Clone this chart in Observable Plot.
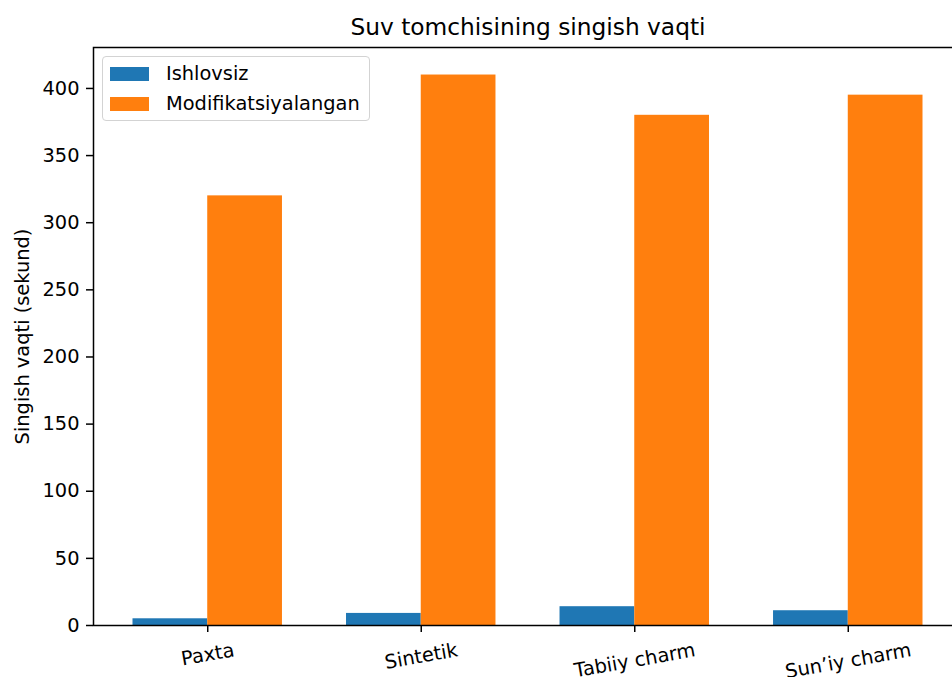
<!DOCTYPE html>
<html>
<head>
<meta charset="utf-8">
<script src="https://cdn.jsdelivr.net/npm/d3@7"></script>
<script src="https://cdn.jsdelivr.net/npm/@observablehq/plot@0.6"></script>
<style>
  html, body { margin: 0; padding: 0; background: #fff; }
  #wrap { position: relative; width: 952px; height: 677px; overflow: hidden; font-family: "DejaVu Sans", sans-serif; }
  #legend { position: absolute; left: 102px; top: 56px; width: 266px; height: 63px;
    border: 1px solid #d3d3d3; border-radius: 4px; background: rgba(255,255,255,0.8); }
  .item { position: absolute; left: 0; font-size: 19.4px; line-height: 20px; color: #000; white-space: nowrap; }
  .sw { position: absolute; left: 7px; width: 39px; height: 14px; }
  .lab { position: absolute; left: 63px; top: -3px; }
</style>
</head>
<body>
<div id="wrap"></div>
<script>
const title = "Suv tomchisining singish vaqti";
const yLabel = "Singish vaqti (sekund)";
const categories = ["Paxta", "Sintetik", "Tabiiy charm", "Sun’iy charm"];
const seriesNames = ["Ishlovsiz", "Modifikatsiyalangan"];
const ishlovsiz = [5, 9, 14, 11];
const modifikatsiyalangan = [320, 410, 380, 395];
const seriesColors = ["#1f77b4", "#ff7f0e"];
const yTicks = [0, 50, 100, 150, 200, 250, 300, 350, 400];

const barWidth = 0.35;
const fontPx = 19.4;
const labelAngle = 10;
const seriesValues = [ishlovsiz, modifikatsiyalangan];
const rows = [];
seriesValues.forEach((vals, s) => {
  vals.forEach((v, i) => {
    const x1 = i + (s === 0 ? -barWidth : 0);
    rows.push({category: categories[i], series: seriesNames[s], i, x1, x2: x1 + barWidth, value: v});
  });
});
const lo = -barWidth, hi = categories.length - 1 + barWidth;
const pad = 0.05 * (hi - lo);
const yMax = d3.max(rows, d => d.value) * 1.05;

// rotated tick labels: top of the rotated box sits at a fixed distance below the axis
const ctx = document.createElement("canvas").getContext("2d");
ctx.font = `${fontPx}px "DejaVu Sans"`;
const rad = labelAngle * Math.PI / 180;
const labelMarks = categories.map((c, i) => {
  const w = ctx.measureText(c).width;
  const h = fontPx;
  const boxH = w * Math.sin(rad) + h * Math.cos(rad);
  const dy = 14.9 + boxH / 2;
  return Plot.text([c], {x: () => i, frameAnchor: "bottom", dy, rotate: -labelAngle,
    textAnchor: "middle", lineAnchor: "middle", fontSize: fontPx, fill: "black"});
});

const chart = Plot.plot({
  width: 952,
  height: 677,
  marginLeft: 93,
  marginRight: -10,
  marginTop: 47,
  marginBottom: 52,
  style: {fontFamily: "DejaVu Sans", fontSize: fontPx + "px", background: "white", color: "black", overflow: "visible"},
  x: {type: "linear", domain: [lo - pad, hi + pad], range: [93, 962], axis: null},
  y: {domain: [0, yMax], range: [625, 47], axis: null},
  color: {domain: seriesNames, range: seriesColors},
  marks: [
    Plot.rectY(rows, {x1: "x1", x2: "x2", y1: 0, y2: "value", fill: "series"}),
    Plot.axisY({ticks: yTicks, tickSize: 7, tickPadding: 7, strokeWidth: 1.5, fontSize: fontPx, label: null}),
    Plot.axisX({ticks: d3.range(categories.length), tickSize: 7, strokeWidth: 1.5, tickFormat: () => "", label: null}),
    ...labelMarks,
    Plot.text([yLabel], {frameAnchor: "left", dx: -71, rotate: -90, textAnchor: "middle", lineAnchor: "middle", fontSize: fontPx, fill: "black"}),
    Plot.text([title], {frameAnchor: "top", dy: -20, textAnchor: "middle", lineAnchor: "middle", fontSize: 23.3, fill: "black"}),
    Plot.frame({stroke: "black", strokeWidth: 1.5})
  ]
});
const wrap = document.getElementById("wrap");
wrap.appendChild(chart);

const legend = document.createElement("div");
legend.id = "legend";
seriesNames.forEach((name, s) => {
  const item = document.createElement("div");
  item.className = "item";
  item.style.top = (10 + s * 29.5) + "px";
  const sw = document.createElement("div");
  sw.className = "sw";
  sw.style.background = seriesColors[s];
  const lab = document.createElement("span");
  lab.className = "lab";
  lab.textContent = name;
  item.appendChild(sw);
  item.appendChild(lab);
  legend.appendChild(item);
});
wrap.appendChild(legend);
</script>
</body>
</html>
